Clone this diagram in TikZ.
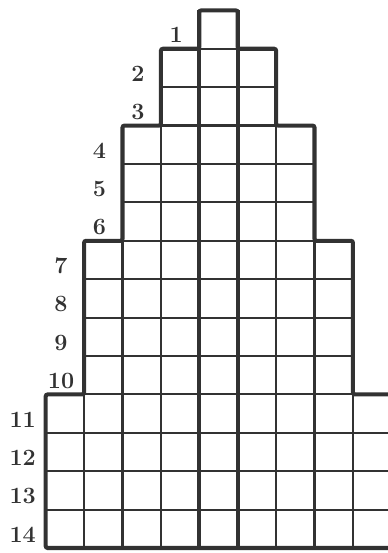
\documentclass[tikz,border=0pt]{standalone}
\usepackage{xcolor}
\usepackage{tikz}
\definecolor{pencil}{RGB}{50,50,50}

\begin{document}
\begin{tikzpicture}[
        gridline/.style={draw=pencil, line width=1.6pt},
        outline/.style={draw=pencil, line width=3pt, rounded corners=1.5pt},
        spine/.style={draw=pencil, line width=3.2pt},
        rowlabel/.style={text=pencil, font=\bfseries\LARGE, inner sep=0pt}
    ]
        \useasboundingbox (-5.19,-0.13) rectangle (4.89,14.27);
        % cells of every tier
        \foreach \k/\ylo/\yhi in {0/13/14, 1/11/13, 2/8/11, 3/4/8, 4/0/4}
            \draw[gridline] (-\k,\ylo) grid (\k+1,\yhi);
        % middle column
        \draw[spine] (0,0) -- (0,14);
        \draw[spine] (1,0) -- (1,14);
        % stepped border
        \draw[outline] (-4,0) -- (-4,4) -- (-3,4) -- (-3,8) -- (-2,8) -- (-2,11)
            -- (-1,11) -- (-1,13) -- (0,13) -- (0,14) -- (1,14) -- (1,13) -- (2,13)
            -- (2,11) -- (3,11) -- (3,8) -- (4,8) -- (4,4) -- (5,4) -- (5,0) -- cycle;
        % row numbers
        \foreach \r/\k in {1/0, 2/1, 3/1, 4/2, 5/2, 6/2, 7/3, 8/3, 9/3, 10/3,
                           11/4, 12/4, 13/4, 14/4}
            \node[rowlabel] (row\r) at (-\k-0.6, 14.35-\r) {\r};
    \end{tikzpicture}
\end{document}
